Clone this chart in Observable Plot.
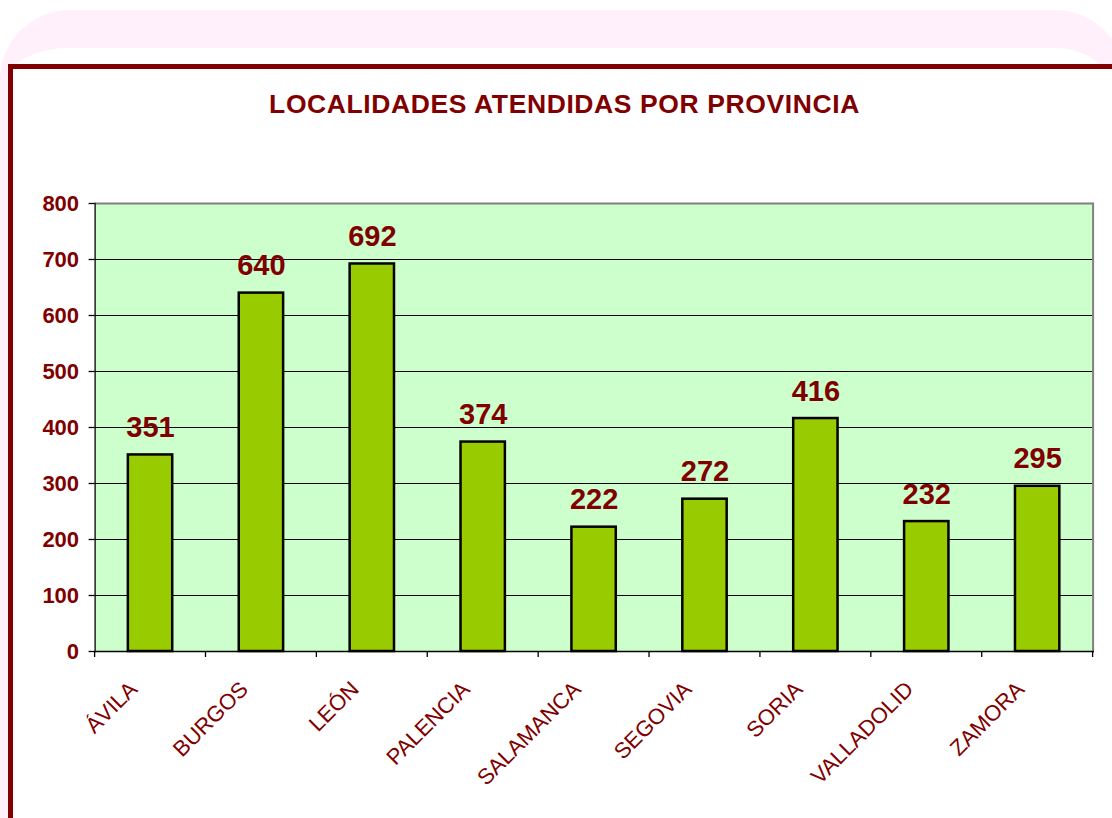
<!DOCTYPE html>
<html>
<head>
<meta charset="utf-8">
<script src="https://cdn.jsdelivr.net/npm/d3@7"></script>
<script src="https://cdn.jsdelivr.net/npm/@observablehq/plot@0.6"></script>
<style>
  html, body { margin: 0; padding: 0; background: #fff; }
  #page { position: relative; width: 1112px; height: 818px; overflow: hidden; background: #fff;
          font-family: Arial, "Liberation Sans", sans-serif; }
  #pink { position: absolute; left: 0; top: 10px; width: 1125px; height: 900px; box-sizing: border-box;
          border-style: solid; border-color: #FFF0FC; border-width: 38px 20px 0 8px; border-radius: 70px; }
  #frame { position: absolute; left: 8px; top: 64px; width: 1200px; height: 900px; box-sizing: border-box;
           border: 5px solid #800000; background: #fff; }
  #title { position: absolute; left: 0; top: 88.5px; width: 1129px; text-align: center; font-size: 26.5px;
           letter-spacing: 0.6px; line-height: 30px; font-weight: bold; color: #800000; white-space: nowrap; }
  #chart { position: absolute; left: 0; top: 0; }
</style>
</head>
<body>
<div id="page">
  <div id="pink"></div>
  <div id="frame"></div>
  <div id="title">LOCALIDADES ATENDIDAS POR PROVINCIA</div>
  <div id="chart"></div>
</div>
<script>
const provincias = ["ÁVILA", "BURGOS", "LEÓN", "PALENCIA", "SALAMANCA", "SEGOVIA", "SORIA", "VALLADOLID", "ZAMORA"];
const localidades = [351, 640, 692, 374, 222, 272, 416, 232, 295];
const yTicks = [0, 100, 200, 300, 400, 500, 600, 700, 800];
const gridValues = [100, 200, 300, 400, 500, 600, 700];

const data = provincias.map((p, i) => ({prov: p, val: localidades[i]}));
const RED = "#800000";

// ticks at category boundaries (below x axis)
const boundaryTicks = (index, scales, values, dims) => {
  const g = d3.create("svg:g");
  const x0 = dims.marginLeft, x1 = dims.width - dims.marginRight;
  const yb = dims.height - dims.marginBottom;
  const n = provincias.length;
  for (let k = 0; k <= n; k++) {
    const xx = x0 + (x1 - x0) * k / n;
    g.append("line").attr("x1", xx).attr("x2", xx).attr("y1", yb).attr("y2", yb + 6)
      .attr("stroke", "#000").attr("stroke-width", 1.3);
  }
  return g.node();
};

const chart = Plot.plot({
  width: 1112,
  height: 818,
  marginLeft: 94.6,
  marginRight: 19.4,
  marginTop: 203,
  marginBottom: 167,
  style: {background: "transparent", fontFamily: "Arial, 'Liberation Sans', sans-serif", overflow: "visible"},
  x: {domain: provincias, paddingInner: 0.6, paddingOuter: 0.3, round: false, label: null},
  y: {domain: [0, 800], label: null},
  marks: [
    Plot.frame({fill: "#CCFFCC", stroke: null}),
    Plot.ruleY(gridValues, {stroke: "#000", strokeWidth: 1}),
    Plot.ruleY([800], {stroke: "#808080", strokeWidth: 2}),
    Plot.frame({anchor: "right", stroke: "#808080", strokeWidth: 2}),
    Plot.barY(data, {x: "prov", y: "val", fill: "#99CC00", stroke: "#000", strokeWidth: 2.5}),
    Plot.text(data, {x: "prov", y: "val", text: d => String(d.val), dy: -18, lineAnchor: "bottom",
      fontSize: 29, fontWeight: "bold", fill: RED}),
    Plot.axisY({ticks: yTicks, tickSize: 6, tickPadding: 10, fontSize: 22, fontWeight: "bold",
      fill: RED, stroke: "#000", strokeWidth: 1.3, label: null, tickFormat: d => String(d)}),
    Plot.frame({anchor: "left", stroke: "#000", strokeWidth: 1.3}),
    Plot.frame({anchor: "bottom", stroke: "#000", strokeWidth: 1.3}),
    boundaryTicks,
    Plot.axisX({tickSize: 0, tickPadding: 39, dx: -12, rotate: -45, textAnchor: "end", lineAnchor: "bottom",
      fontSize: 22, fill: RED, label: null})
  ]
});
document.getElementById("chart").appendChild(chart);
</script>
</body>
</html>
